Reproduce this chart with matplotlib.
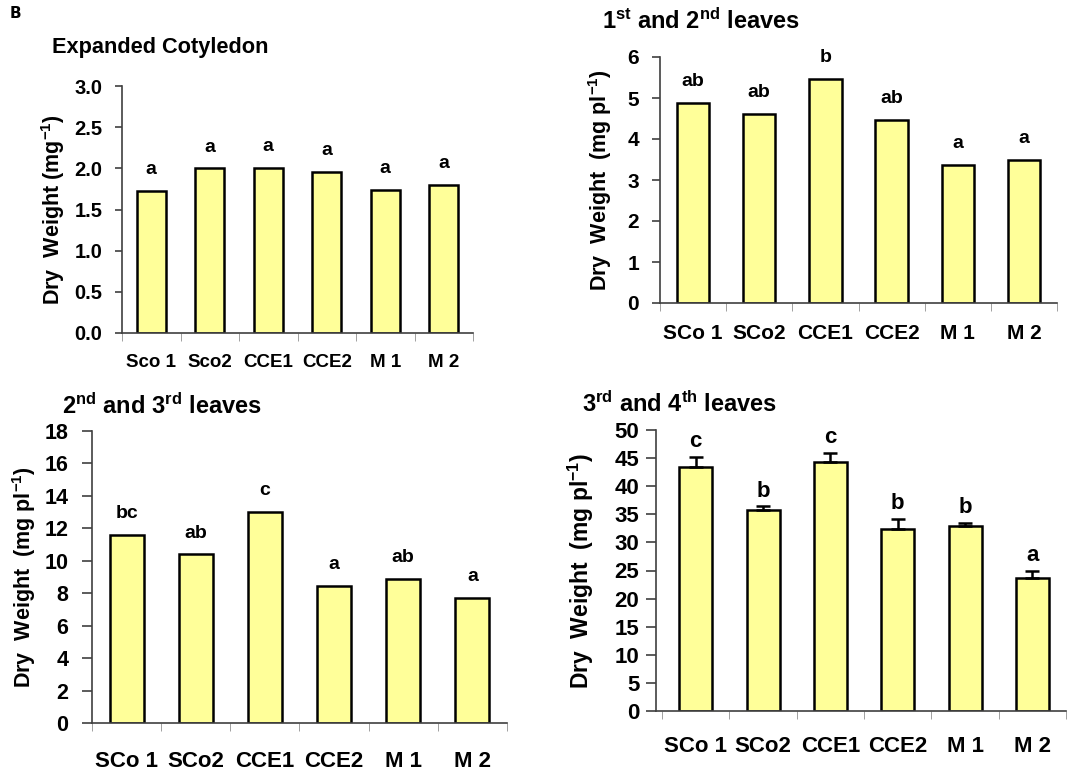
import numpy as np
import matplotlib.pyplot as plt

plt.rcParams['font.family'] = ['Liberation Sans', 'DejaVu Sans']
plt.rcParams['font.weight'] = 'bold'
plt.rcParams['mathtext.fontset'] = 'custom'
plt.rcParams['mathtext.rm'] = 'Liberation Sans:bold'
plt.rcParams['mathtext.bf'] = 'Liberation Sans:bold'
plt.rcParams['mathtext.it'] = 'Liberation Sans:bold'

# data
cats_cot = ["Sco 1", "Sco2", "CCE1", "CCE2", "M 1", "M 2"]
cats = ["SCo 1", "SCo2", "CCE1", "CCE2", "M 1", "M 2"]

cot_vals = [1.73, 2.00, 2.01, 1.96, 1.74, 1.80]
cot_letters = ["a", "a", "a", "a", "a", "a"]

l12_vals = [4.88, 4.62, 5.46, 4.46, 3.37, 3.49]
l12_letters = ["ab", "ab", "b", "ab", "a", "a"]

l23_vals = [11.6, 10.4, 13.0, 8.46, 8.87, 7.70]
l23_letters = ["bc", "ab", "c", "a", "ab", "a"]

l34_vals = [43.5, 35.7, 44.3, 32.3, 33.0, 23.6]
l34_err = [1.7, 0.7, 1.6, 1.9, 0.5, 1.4]
l34_letters = ["c", "b", "c", "b", "b", "a"]

W, H = 1088, 773
fig = plt.figure(figsize=(W / 100, H / 100), dpi=100)

yellow = "#FFFF99"
axcol = "#404040"


def px_axes(left, top, right, bottom):
    return fig.add_axes([left / W, 1 - bottom / H, (right - left) / W, (bottom - top) / H])


def panel(ax, names, vals, letters, yticks, ylim, ylabel, err=None,
          xlim=(-0.5, 5.5), fs_tick=12, fs_x=13, fs_lab=13, fs_let=14,
          letter_off=12, xpad=14, ypad=8, ylen=5):
    x = np.arange(len(vals))
    if err is not None:
        ax.bar(x, vals, width=0.49, color=yellow, edgecolor="black", linewidth=1.8,
               yerr=[np.zeros(len(err)), err], capsize=5,
               error_kw=dict(elinewidth=1.8, capthick=1.8, ecolor="black"), zorder=2)
        tops = np.array(vals) + np.array(err)
    else:
        ax.bar(x, vals, width=0.49, color=yellow, edgecolor="black", linewidth=1.8, zorder=2)
        tops = np.array(vals)
    for xi, t, lab in zip(x, tops, letters):
        ax.annotate(lab, (xi, t), xytext=(0, letter_off), textcoords="offset points",
                    ha="center", va="baseline", fontsize=fs_let, fontweight="bold")
    ax.set_xlim(*xlim)
    ax.set_ylim(*ylim)
    ax.set_yticks(yticks)
    ax.set_xticks(x)
    ax.set_xticklabels(names, fontsize=fs_x, fontweight="bold")
    ax.set_xticks(np.arange(-0.5, len(vals), 1), minor=True)
    ax.tick_params(axis="x", which="major", length=0, pad=xpad)
    ax.tick_params(axis="x", which="minor", length=6, color="#909090", direction="out")
    ax.tick_params(axis="y", length=ylen, color=axcol, labelsize=fs_tick, width=1.2, pad=ypad)
    for lbl in ax.get_yticklabels():
        lbl.set_fontweight("bold")
    ax.spines["top"].set_visible(False)
    ax.spines["right"].set_visible(False)
    ax.spines["left"].set_color(axcol)
    ax.spines["bottom"].set_color(axcol)
    ax.spines["left"].set_linewidth(1.2)
    ax.spines["bottom"].set_linewidth(1.2)
    ax.set_ylabel(ylabel, fontsize=fs_lab, fontweight="bold")


# top left
ax1 = px_axes(122, 86, 473, 333)
panel(ax1, cats_cot, cot_vals, cot_letters, np.arange(0, 3.01, 0.5), (0, 3.0),
      r"Dry  Weight (mg$^{-1}$)", fs_tick=14.5, fs_x=13.5, fs_lab=15.5, xpad=15,
      ypad=9)
ax1.set_yticklabels([f"{v:.1f}" for v in np.arange(0, 3.01, 0.5)])
ax1.yaxis.set_label_coords(-0.157, 0.5)

# top right
ax2 = px_axes(660, 57, 1057, 303)
panel(ax2, cats, l12_vals, l12_letters, np.arange(0, 7, 1), (0, 6),
      r"Dry  Weight  (mg pl$^{-1}$)", fs_tick=15, fs_x=15, fs_lab=15.5, xpad=15,
      ypad=9, ylen=6)
ax2.yaxis.set_label_coords(-0.116, 0.5)

# bottom left
ax3 = px_axes(92, 431, 507, 723)
panel(ax3, cats, l23_vals, l23_letters, np.arange(0, 19, 2), (0, 18),
      r"Dry  Weight  (mg pl$^{-1}$)", fs_tick=15.5, fs_x=16, fs_lab=15.5, xpad=20,
      ypad=10, ylen=7)
ax3.yaxis.set_label_coords(-0.130, 0.5)

# bottom right
ax4 = px_axes(656, 430, 1066, 711)
panel(ax4, cats, l34_vals, l34_letters, np.arange(0, 51, 5), (0, 50),
      r"Dry  Weight  (mg pl$^{-1}$)", err=l34_err, xlim=(-0.59, 5.47),
      fs_tick=16, fs_x=16, fs_lab=16.5, fs_let=16, letter_off=7, xpad=18,
      ypad=5, ylen=7)
ax4.yaxis.set_label_coords(-0.146, 0.5)

# titles
fig.text(52 / W, 1 - 48 / H, "Expanded Cotyledon", fontsize=15.7, fontweight="bold",
         va="center", ha="left")
fig.text(602 / W, 1 - 21 / H, r"1$^{st}$ and 2$^{nd}$ leaves", fontsize=17,
         fontweight="bold", va="center", ha="left")
fig.text(62 / W, 1 - 406 / H, r"2$^{nd}$ and 3$^{rd}$ leaves", fontsize=17,
         fontweight="bold", va="center", ha="left")
fig.text(582 / W, 1 - 404 / H, r"3$^{rd}$ and 4$^{th}$ leaves", fontsize=17,
         fontweight="bold", va="center", ha="left")
fig.text(10 / W, 1 - 14 / H, "B", fontsize=11, fontweight="bold",
         family=["DejaVu Sans"], va="center", ha="left")

fig.savefig("out.png", dpi=100)
